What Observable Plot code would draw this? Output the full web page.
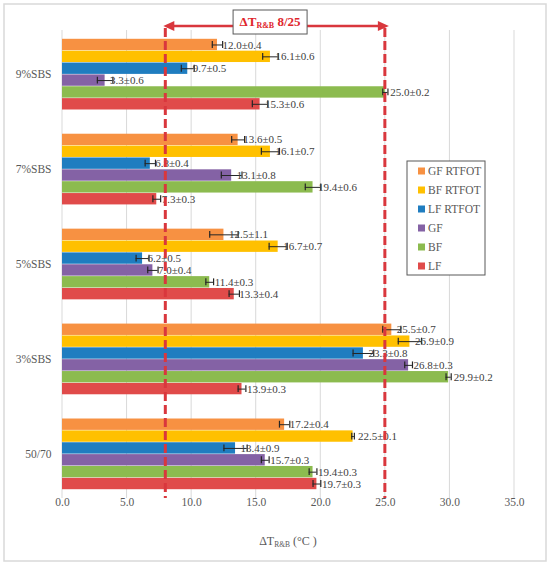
<!DOCTYPE html>
<html><head><meta charset="utf-8">
<script src="https://cdn.jsdelivr.net/npm/d3@7"></script>
<script src="https://cdn.jsdelivr.net/npm/@observablehq/plot@0.6"></script>
<style>body{margin:0;background:#fff} svg{display:block}</style>
</head><body><div id="chart"></div>
<script>
const groups = ["9%SBS","7%SBS","5%SBS","3%SBS","50/70"];
const seriesNames = ["GF RTFOT","BF RTFOT","LF RTFOT","GF","BF","LF"];
const seriesColors = ["#F79142","#FFC000","#1F7DC0","#8462A5","#8CBB4F","#E04B4A"];
const gfRtfot = [12.0,13.6,12.5,25.5,17.2], gfRtfotErr = [0.4,0.5,1.1,0.7,0.4];
const bfRtfot = [16.1,16.1,16.7,26.9,22.5], bfRtfotErr = [0.6,0.7,0.7,0.9,0.1];
const lfRtfot = [9.7,6.8,6.2,23.3,13.4],    lfRtfotErr = [0.5,0.4,0.5,0.8,0.9];
const gf = [3.3,13.1,7.0,26.8,15.7],        gfErr = [0.6,0.8,0.4,0.3,0.3];
const bf = [25.0,19.4,11.4,29.9,19.4],      bfErr = [0.2,0.6,0.3,0.2,0.3];
const lf = [15.3,7.3,13.3,13.9,19.7],       lfErr = [0.6,0.3,0.4,0.3,0.3];
const xTicks = [0,5,10,15,20,25,30,35];
const limits = [8,25];
const limitLabel = "8/25";

const seriesVals = [gfRtfot,bfRtfot,lfRtfot,gf,bf,lf];
const seriesErrs = [gfRtfotErr,bfRtfotErr,lfRtfotErr,gfErr,bfErr,lfErr];
const data = [];
groups.forEach((g,gi) => seriesNames.forEach((s,si) => data.push({group:g, series:s, value:seriesVals[si][gi], err:seriesErrs[si][gi]})));

const red = "#D9373D";
const mt = 30, mb = 68, H = 566;
const plot = Plot.plot({
  width: 550, height: H,
  marginLeft: 62, marginRight: 36, marginTop: mt, marginBottom: mb,
  style: {fontFamily: "'Liberation Serif', serif", fontSize: "11.5px", color: "#595959", background: "white"},
  x: {domain: [0,35], ticks: xTicks, tickFormat: d => d.toFixed(1), tickSize: 0, tickPadding: 8, label: null},
  fy: {domain: groups, paddingInner: 0.25, paddingOuter: 0.09, round: false, label: null, tickSize: 0, tickPadding: 11},
  y: {domain: seriesNames, axis: null, padding: 0, round: false},
  color: {domain: seriesNames, range: seriesColors},
  marks: [
    Plot.barX(data, {fy: "group", y: "series", x: "value", fill: "series", insetTop: 0.25, insetBottom: 0.25}),
    Plot.ruleY(data, {fy: "group", y: "series", x1: d => d.value - d.err, x2: d => d.value + d.err, stroke: "#262626", strokeWidth: 1}),
    Plot.tickX(data, {fy: "group", y: "series", x: d => d.value - d.err, stroke: "#262626", strokeWidth: 1.2, insetTop: 2.5, insetBottom: 2.5}),
    Plot.tickX(data, {fy: "group", y: "series", x: d => d.value + d.err, stroke: "#262626", strokeWidth: 1.2, insetTop: 2.5, insetBottom: 2.5}),
    Plot.text(data, {fy: "group", y: "series", x: "value", text: d => `${d.value.toFixed(1)}±${d.err.toFixed(1)}`, dx: 5, textAnchor: "start", fill: "#404040", fontSize: 11})
  ]
});
document.getElementById("chart").appendChild(plot);

const svg = d3.select(plot);
const xs = plot.scale("x");
const cs = plot.scale("color");

// continuous vertical gridlines under the bars
const grid = svg.insert("g", ":first-child");
xTicks.forEach(t => grid.append("line").attr("x1",xs.apply(t)).attr("x2",xs.apply(t)).attr("y1",mt).attr("y2",H-mb).attr("stroke","#d9d9d9").attr("stroke-width",1));

// limit dashed lines on top
limits.forEach(t => svg.append("line").attr("x1",xs.apply(t)).attr("x2",xs.apply(t)).attr("y1",mt-2).attr("y2",H-mb).attr("stroke",red).attr("stroke-width",3).attr("stroke-dasharray","9,4"));

// chart area border
svg.append("rect").attr("x",4).attr("y",4).attr("width",542).attr("height",557).attr("fill","none").attr("stroke","#d9d9d9").attr("stroke-width",1.5);

// limit arrow annotation
const xa = xs.apply(limits[0]), xb = xs.apply(limits[1]);
const ay = 26;
const ann = svg.append("g");
ann.append("line").attr("x1",xa+6).attr("x2",xb-2).attr("y1",ay).attr("y2",ay).attr("stroke",red).attr("stroke-width",2.5);
ann.append("path").attr("d",`M${xa-2},${ay} l11,-5 l0,10 z`).attr("fill",red);
ann.append("path").attr("d",`M${xb+4},${ay} l-11,-5 l0,10 z`).attr("fill",red);
const bx = (xa+xb)/2 - 5;
ann.append("rect").attr("x",bx-37).attr("y",10).attr("width",74).attr("height",24).attr("fill","white").attr("stroke","#595959").attr("stroke-width",1);
const at = ann.append("text").attr("x",bx).attr("y",26).attr("text-anchor","middle").attr("fill","#E0262C").attr("font-weight","bold").attr("font-size","13px").attr("font-family","'Liberation Serif', serif");
at.append("tspan").text("ΔT");
at.append("tspan").attr("font-size","8px").attr("dy",2).text("R&B");
at.append("tspan").attr("dy",-2).text(" " + limitLabel);

// x axis title
const xt = svg.append("text").attr("x",(xs.apply(0)+xs.apply(35))/2).attr("y",545).attr("text-anchor","middle").attr("fill","#595959").attr("font-size","12px").attr("font-family","'Liberation Serif', serif");
xt.append("tspan").text("ΔT");
xt.append("tspan").attr("font-size","7.5px").attr("dy",2).text("R&B");
xt.append("tspan").attr("dy",-2).text(" (°C )");

// legend
const lg = svg.append("g").attr("font-family","'Liberation Serif', serif").attr("font-size","11.5px").attr("fill","#595959").attr("text-anchor","start");
lg.append("rect").attr("x",407).attr("y",161).attr("width",78).attr("height",114).attr("fill","white").attr("stroke","#595959").attr("stroke-width",1);
seriesNames.forEach((s,i) => {
  const y = 171 + i*19;
  lg.append("rect").attr("x",418).attr("y",y-3.5).attr("width",7).attr("height",7).attr("fill",cs.apply(s));
  lg.append("text").attr("x",428).attr("y",y).attr("dy","0.35em").attr("text-anchor","start").text(s);
});
</script>
</body></html>
